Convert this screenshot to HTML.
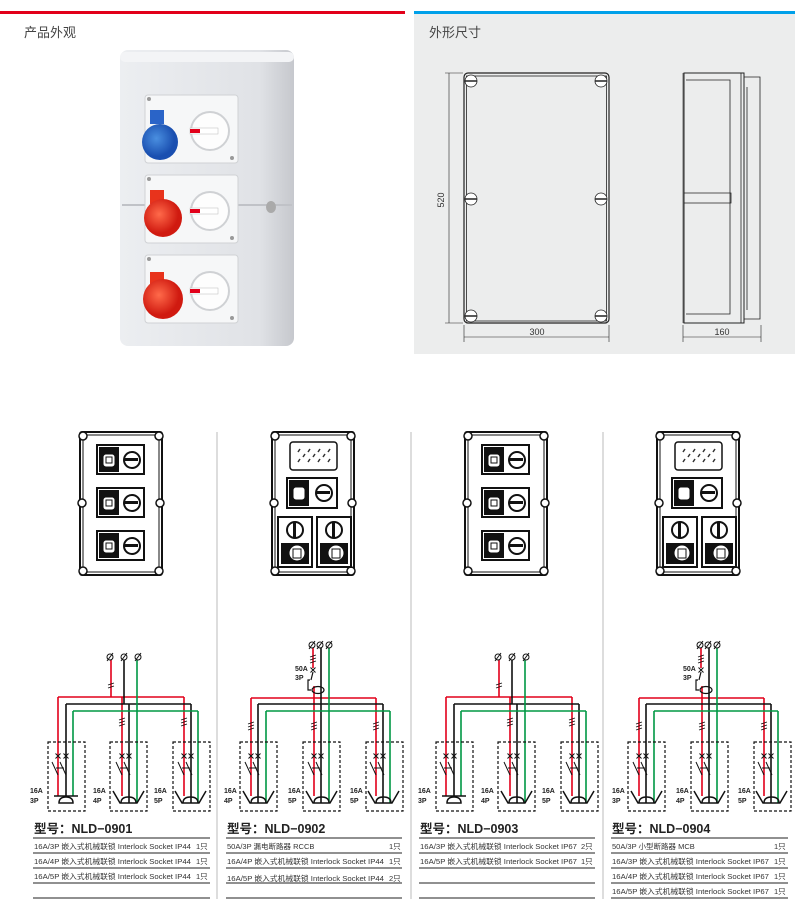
<!DOCTYPE html>
<html><head><meta charset="utf-8"><style>
html,body{margin:0;padding:0;background:#fff;}
svg{display:block;font-family:"Liberation Sans","Noto Sans CJK SC",sans-serif;}
</style></head><body>
<svg width="795" height="899" viewBox="0 0 795 899" xmlns="http://www.w3.org/2000/svg">
<defs>
<linearGradient id="boxg" x1="0" x2="1" y1="0" y2="0">
<stop offset="0" stop-color="#eceef1"/><stop offset="0.8" stop-color="#e0e2e6"/><stop offset="1" stop-color="#c6c8cd"/>
</linearGradient>
<radialGradient id="blue" cx="0.4" cy="0.4"><stop offset="0" stop-color="#4a8fe0"/><stop offset="1" stop-color="#1a4fb0"/></radialGradient>
<radialGradient id="red" cx="0.4" cy="0.4"><stop offset="0" stop-color="#ff6a4a"/><stop offset="1" stop-color="#d01a10"/></radialGradient>

<g id="encA">
<rect x="80" y="432" width="82" height="143" rx="2" fill="#fff" stroke="#111" stroke-width="2"/>
<rect x="83" y="435" width="76" height="137" fill="none" stroke="#111" stroke-width="1"/>
<g fill="#fff" stroke="#111" stroke-width="1.5">
<circle cx="83" cy="436" r="4"/><circle cx="159" cy="436" r="4"/>
<circle cx="82" cy="503" r="4"/><circle cx="160" cy="503" r="4"/>
<circle cx="83" cy="571" r="4"/><circle cx="159" cy="571" r="4"/>
</g>
<g id="modA">
<rect x="97" y="445" width="47" height="29" fill="#fff" stroke="#111" stroke-width="2"/>
<rect x="99" y="447" width="20" height="25" fill="#111"/>
<rect x="103" y="454" width="12" height="13" rx="3" fill="#fff" stroke="#111"/>
<rect x="106" y="457" width="6" height="6" fill="none" stroke="#111"/>
<circle cx="132" cy="460" r="8" fill="#fff" stroke="#111" stroke-width="2"/>
<rect x="125" y="458" width="13" height="3" fill="#111"/>
</g>
<use href="#modA" y="43"/>
<use href="#modA" y="86"/>
</g>

<g id="encB">
<rect x="272" y="432" width="82" height="143" rx="2" fill="#fff" stroke="#111" stroke-width="2"/>
<rect x="275" y="435" width="76" height="137" fill="none" stroke="#111" stroke-width="1"/>
<g fill="#fff" stroke="#111" stroke-width="1.5">
<circle cx="275" cy="436" r="4"/><circle cx="351" cy="436" r="4"/>
<circle cx="274" cy="503" r="4"/><circle cx="352" cy="503" r="4"/>
<circle cx="275" cy="571" r="4"/><circle cx="351" cy="571" r="4"/>
</g>
<rect x="290" y="442" width="47" height="28" rx="3" fill="#fff" stroke="#111" stroke-width="1.5"/>
<g stroke="#333" stroke-width="1.5">
<path d="M298 452l2-3M308 452l2-3M318 452l2-3M328 452l2-3M298 462l2-3M308 462l2-3M318 462l2-3M328 462l2-3M303 457l2-3M313 457l2-3M323 457l2-3"/>
</g>
<rect x="287" y="478" width="50" height="30" fill="#fff" stroke="#111" stroke-width="2"/>
<rect x="289" y="480" width="20" height="26" fill="#111"/>
<rect x="293" y="487" width="12" height="13" rx="3" fill="#fff" stroke="#111"/>
<circle cx="324" cy="493" r="8" fill="#fff" stroke="#111" stroke-width="2"/>
<rect x="317" y="491" width="13" height="3" fill="#111"/>
<g id="modB">
<rect x="278" y="517" width="34" height="50" fill="#fff" stroke="#111" stroke-width="2"/>
<circle cx="295" cy="530" r="8" fill="#fff" stroke="#111" stroke-width="2"/>
<rect x="293" y="522" width="3" height="16" fill="#111"/>
<rect x="281" y="543" width="28" height="21" fill="#111"/>
<circle cx="297" cy="553" r="8" fill="#fff" stroke="#111"/>
<rect x="293" y="549" width="8" height="9" fill="none" stroke="#111"/>
</g>
<use href="#modB" x="39"/>
</g>

<g id="sock3">
<path d="M54 796H78" stroke="#111" stroke-width="1.5"/>
<path d="M59 803Q59 797 66 797Q73 797 73 803Z" fill="none" stroke="#111" stroke-width="1.5"/>
</g>
<g id="sockV">
<path d="M113 791L120 803H137L144 791" fill="none" stroke="#111" stroke-width="1.5"/>
<path d="M121 803Q121 797 128.5 797Q136 797 136 803" fill="none" stroke="#111" stroke-width="1.5"/>
</g>
<g id="boxF">
<rect x="48" y="742" width="37" height="69" fill="none" stroke="#111" stroke-width="1.2" stroke-dasharray="3,2"/>
</g>
<g id="xx">
<path d="M-2.5 -2.5l5 5M-2.5 2.5l5 -5" stroke="#111" stroke-width="1"/>
</g>
<g id="sw">
<path d="M-6 762L0 775M2 762L8 775M-2 768h8" stroke="#111" stroke-width="1"/>
</g>
<g id="tick">
<path d="M-3 2l6-2M-3 5l6-2M-3 8l6-2" stroke="#111" stroke-width="0.9"/>
</g>
<g id="phi">
<circle r="3" fill="none" stroke="#111" stroke-width="1"/>
<path d="M-3 4L3 -4" stroke="#111" stroke-width="1"/>
</g>

<g id="wA" fill="none" stroke-width="1.6">
<path d="M111 660V697M58 697H184M58 697V796M122 697V796M184 697V796" stroke="#e2001a"/>
<path d="M124 660V704M66 704H191M66 704V796M129 704V803M191 704V803" stroke="#111"/>
<path d="M137 660V711M73 711H198M73 711V796M137 711V803M198 711V803" stroke="#009844"/>
<use href="#phi" x="110" y="657"/><use href="#phi" x="124" y="657"/><use href="#phi" x="138" y="657"/>
<path d="M108 685l6-2M108 688l6-2" stroke="#111" stroke-width="0.9"/>
<use href="#tick" x="122" y="718"/><use href="#tick" x="184" y="718"/>
<use href="#boxF"/><use href="#boxF" x="62"/><use href="#boxF" x="125"/>
<use href="#xx" x="58" y="756"/><use href="#xx" x="66" y="756"/>
<use href="#xx" x="122" y="756"/><use href="#xx" x="129" y="756"/>
<use href="#xx" x="184" y="756"/><use href="#xx" x="191" y="756"/>
<use href="#sw" x="58"/><use href="#sw" x="122"/><use href="#sw" x="184"/>
<use href="#sock3"/><use href="#sockV"/><use href="#sockV" x="62"/>
</g>

<g id="wB" fill="none" stroke-width="1.6">
<path d="M313 648V668M314 686V698M251 698H376M251 698V796M314 698V796M376 698V796" stroke="#e2001a"/>
<path d="M321 648V704M258 704H383M258 704V803M321 704V803M383 704V803" stroke="#111"/>
<path d="M329 648V711M266 711H390M266 711V803M329 711V803M390 711V803" stroke="#009844"/>
<use href="#phi" x="312" y="645"/><use href="#phi" x="320" y="645"/><use href="#phi" x="329" y="645"/>
<use href="#tick" x="313" y="655"/>
<use href="#xx" x="313" y="670"/>
<path d="M313 672L311 680M310 680H308V690H311" stroke="#111" stroke-width="1.2"/>
<ellipse cx="318" cy="690" rx="6" ry="3.5" stroke="#111" stroke-width="1.2"/>
<use href="#tick" x="251" y="722"/><use href="#tick" x="314" y="722"/><use href="#tick" x="376" y="722"/>
<use href="#boxF" x="192"/><use href="#boxF" x="255"/><use href="#boxF" x="318"/>
<use href="#xx" x="251" y="756"/><use href="#xx" x="258" y="756"/>
<use href="#xx" x="314" y="756"/><use href="#xx" x="321" y="756"/>
<use href="#xx" x="376" y="756"/><use href="#xx" x="383" y="756"/>
<use href="#sw" x="251"/><use href="#sw" x="314"/><use href="#sw" x="376"/>
<use href="#sockV" x="130"/><use href="#sockV" x="193"/><use href="#sockV" x="255"/>
</g>
</defs>

<rect x="0" y="11" width="405" height="3" fill="#e2001a"/>
<rect x="414" y="11" width="381" height="3" fill="#00a0e9"/>
<rect x="414" y="14" width="381" height="340" fill="#eceded"/>
<text x="24" y="37" font-size="13" fill="#444">产品外观</text>
<text x="429" y="37" font-size="13" fill="#444">外形尺寸</text>

<rect x="120" y="50" width="174" height="296" rx="8" fill="url(#boxg)"/>
<rect x="120" y="52" width="174" height="10" rx="5" fill="#f3f4f6"/>
<path d="M122 205H292" stroke="#c0c2c7" stroke-width="2"/>
<ellipse cx="271" cy="207" rx="5" ry="6" fill="#aaa"/>
<g id="pm">
<rect x="145" y="95" width="93" height="68" rx="3" fill="#f6f7f8" stroke="#d0d2d5"/>
<circle cx="210" cy="131" r="19" fill="#fdfdfd" stroke="#cfd1d4" stroke-width="2"/>
<rect x="190" y="128" width="28" height="6" fill="#fff" stroke="#bbb" stroke-width="0.5"/>
<rect x="190" y="129" width="10" height="4" fill="#e2001a"/>
<circle cx="149" cy="99" r="2" fill="#999"/><circle cx="232" cy="158" r="2" fill="#999"/>
</g>
<use href="#pm" y="80"/>
<use href="#pm" y="160"/>
<rect x="150" y="110" width="14" height="14" fill="#2a64c8"/>
<circle cx="160" cy="142" r="18" fill="url(#blue)"/>
<rect x="150" y="190" width="14" height="14" fill="#e8331c"/>
<circle cx="163" cy="218" r="19" fill="url(#red)"/>
<rect x="150" y="272" width="14" height="14" fill="#e8331c"/>
<circle cx="163" cy="299" r="20" fill="url(#red)"/>

<g fill="none" stroke="#222">
<rect x="464" y="73" width="145" height="250" rx="4" stroke-width="1.2"/>
<rect x="466.5" y="76" width="140" height="245" stroke-width="0.8"/>
<path d="M449 73V323M445 73H463M445 323H463M464 325V342M609 325V342M464 337H609" stroke-width="0.6"/>
<path d="M683 73V323M683 325V342M761 325V342M683 337H761" stroke-width="0.6"/>
<rect x="684" y="73" width="60" height="250" stroke-width="1"/>
<path d="M686 80H730V314H686M684 193H731V203H684M730 80V314M741 73V323M744 77H760V319H744M747 87V310" stroke-width="0.8"/>
</g>
<g fill="#fff" stroke="#222" stroke-width="0.8">
<circle cx="471" cy="81" r="6"/><circle cx="601" cy="81" r="6"/>
<circle cx="471" cy="199" r="6"/><circle cx="601" cy="199" r="6"/>
<circle cx="471" cy="316" r="6"/><circle cx="601" cy="316" r="6"/>
</g>
<path d="M465 81h12M595 81h12M465 199h12M595 199h12M465 316h12M595 316h12" stroke="#222" stroke-width="1.5"/>
<text x="537" y="335" font-size="9" fill="#333" text-anchor="middle">300</text>
<text x="722" y="335" font-size="9" fill="#333" text-anchor="middle">160</text>
<text transform="translate(444 200) rotate(-90)" font-size="9" fill="#333" text-anchor="middle">520</text>

<path d="M217 432V899M411 432V899M603 432V899" stroke="#bbb" stroke-width="1"/>

<use href="#encA"/>
<use href="#encB"/>
<use href="#encA" x="385"/>
<use href="#encB" x="385"/>

<use href="#wA"/>
<use href="#wB"/>
<use href="#wA" x="388"/>
<use href="#wB" x="388"/>

<g font-size="7" font-weight="bold" fill="#222">
<text x="30" y="793">16A</text><text x="30" y="803">3P</text>
<text x="93" y="793">16A</text><text x="93" y="803">4P</text>
<text x="154" y="793">16A</text><text x="154" y="803">5P</text>
<text x="224" y="793">16A</text><text x="224" y="803">4P</text>
<text x="288" y="793">16A</text><text x="288" y="803">5P</text>
<text x="350" y="793">16A</text><text x="350" y="803">5P</text>
<text x="295" y="671">50A</text><text x="295" y="680">3P</text>
<text x="418" y="793">16A</text><text x="418" y="803">3P</text>
<text x="481" y="793">16A</text><text x="481" y="803">4P</text>
<text x="542" y="793">16A</text><text x="542" y="803">5P</text>
<text x="612" y="793">16A</text><text x="612" y="803">3P</text>
<text x="676" y="793">16A</text><text x="676" y="803">4P</text>
<text x="738" y="793">16A</text><text x="738" y="803">5P</text>
<text x="683" y="671">50A</text><text x="683" y="680">3P</text>
</g>

<g font-size="12.5" font-weight="bold" fill="#222">
<text x="34" y="833">型号：NLD−0901</text>
<text x="227" y="833">型号：NLD−0902</text>
<text x="420" y="833">型号：NLD−0903</text>
<text x="612" y="833">型号：NLD−0904</text>
</g>
<g stroke="#222" stroke-width="0.9">
<path d="M33 838H210M33 853H210M33 868H210M33 883H210M33 898H210"/>
<path d="M226 838H402M226 853H402M226 868H402M226 883H402M226 898H402"/>
<path d="M419 838H595M419 853H595M419 868H595M419 883H595M419 898H595"/>
<path d="M611 838H788M611 853H788M611 868H788M611 883H788M611 898H788"/>
</g>
<g font-size="7.5" fill="#333">
<text x="34" y="849" textLength="157" lengthAdjust="spacingAndGlyphs">16A/3P 嵌入式机械联锁 Interlock Socket IP44</text><text x="196" y="849">1只</text>
<text x="34" y="864" textLength="157" lengthAdjust="spacingAndGlyphs">16A/4P 嵌入式机械联锁 Interlock Socket IP44</text><text x="196" y="864">1只</text>
<text x="34" y="879" textLength="157" lengthAdjust="spacingAndGlyphs">16A/5P 嵌入式机械联锁 Interlock Socket IP44</text><text x="196" y="879">1只</text>

<text x="227" y="849">50A/3P 漏电断路器 RCCB</text><text x="389" y="849">1只</text>
<text x="227" y="864" textLength="157" lengthAdjust="spacingAndGlyphs">16A/4P 嵌入式机械联锁 Interlock Socket IP44</text><text x="389" y="864">1只</text>
<text x="227" y="881" textLength="157" lengthAdjust="spacingAndGlyphs">16A/5P 嵌入式机械联锁 Interlock Socket IP44</text><text x="389" y="881">2只</text>

<text x="420" y="849" textLength="157" lengthAdjust="spacingAndGlyphs">16A/3P 嵌入式机械联锁 Interlock Socket IP67</text><text x="581" y="849">2只</text>
<text x="420" y="864" textLength="157" lengthAdjust="spacingAndGlyphs">16A/5P 嵌入式机械联锁 Interlock Socket IP67</text><text x="581" y="864">1只</text>

<text x="612" y="849">50A/3P 小型断路器 MCB</text><text x="774" y="849">1只</text>
<text x="612" y="864" textLength="157" lengthAdjust="spacingAndGlyphs">16A/3P 嵌入式机械联锁 Interlock Socket IP67</text><text x="774" y="864">1只</text>
<text x="612" y="879" textLength="157" lengthAdjust="spacingAndGlyphs">16A/4P 嵌入式机械联锁 Interlock Socket IP67</text><text x="774" y="879">1只</text>
<text x="612" y="894" textLength="157" lengthAdjust="spacingAndGlyphs">16A/5P 嵌入式机械联锁 Interlock Socket IP67</text><text x="774" y="894">1只</text>
</g>
</svg>
</body></html>
